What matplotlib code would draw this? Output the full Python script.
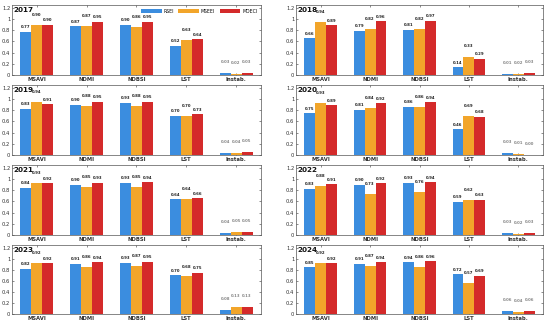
import matplotlib
matplotlib.use("Agg")
import matplotlib.pyplot as plt
import numpy as np

categories = ["MSAVI", "NDMI", "NDBSI", "LST", "Instab."]
series = ["RSEI", "MSEEI", "MDECI"]
years = ["2017", "2018", "2019", "2020", "2021", "2022", "2023", "2024"]

rsei_2017 = [0.77, 0.87, 0.90, 0.52, 0.03]
mseei_2017 = [0.90, 0.87, 0.86, 0.63, 0.02]
mdeci_2017 = [0.90, 0.95, 0.95, 0.64, 0.03]

rsei_2018 = [0.66, 0.79, 0.81, 0.14, 0.01]
mseei_2018 = [0.94, 0.82, 0.82, 0.33, 0.02]
mdeci_2018 = [0.89, 0.96, 0.97, 0.29, 0.03]

rsei_2019 = [0.83, 0.90, 0.93, 0.70, 0.04]
mseei_2019 = [0.94, 0.88, 0.88, 0.70, 0.04]
mdeci_2019 = [0.91, 0.95, 0.95, 0.73, 0.05]

rsei_2020 = [0.75, 0.81, 0.86, 0.46, 0.03]
mseei_2020 = [0.93, 0.84, 0.86, 0.69, 0.01]
mdeci_2020 = [0.89, 0.92, 0.94, 0.68, 0.00]

rsei_2021 = [0.84, 0.90, 0.93, 0.64, 0.04]
mseei_2021 = [0.93, 0.85, 0.85, 0.64, 0.05]
mdeci_2021 = [0.92, 0.93, 0.94, 0.66, 0.05]

rsei_2022 = [0.83, 0.90, 0.93, 0.59, 0.03]
mseei_2022 = [0.88, 0.73, 0.76, 0.62, 0.02]
mdeci_2022 = [0.91, 0.92, 0.94, 0.63, 0.03]

rsei_2023 = [0.82, 0.91, 0.93, 0.70, 0.08]
mseei_2023 = [0.92, 0.86, 0.87, 0.68, 0.13]
mdeci_2023 = [0.92, 0.94, 0.95, 0.75, 0.13]

rsei_2024 = [0.85, 0.91, 0.94, 0.72, 0.06]
mseei_2024 = [0.92, 0.87, 0.86, 0.57, 0.04]
mdeci_2024 = [0.92, 0.94, 0.96, 0.69, 0.06]

data = {
    "2017": (rsei_2017, mseei_2017, mdeci_2017),
    "2018": (rsei_2018, mseei_2018, mdeci_2018),
    "2019": (rsei_2019, mseei_2019, mdeci_2019),
    "2020": (rsei_2020, mseei_2020, mdeci_2020),
    "2021": (rsei_2021, mseei_2021, mdeci_2021),
    "2022": (rsei_2022, mseei_2022, mdeci_2022),
    "2023": (rsei_2023, mseei_2023, mdeci_2023),
    "2024": (rsei_2024, mseei_2024, mdeci_2024),
}

colors = ["#3b8ddf", "#f2a52a", "#d42a2a"]
label_offsets = [0.08, 0.18, 0.08]

W, H = 550, 324
fig = plt.figure(figsize=(5.5, 3.24), dpi=100)
plt.rcParams['font.family'] = ['DejaVu Sans']

col_x = [(12, 261), (296, 543)]
row_y = [(5, 75), (85, 155), (165, 235), (245, 314)]

x = np.arange(1, len(categories) + 1)
bw = 0.22

for i, yr in enumerate(years):
    r, c = divmod(i, 2)
    x0, x1 = col_x[c]
    y0, y1 = row_y[r]
    ax = fig.add_axes([x0 / W, 1 - y1 / H, (x1 - x0) / W, (y1 - y0) / H])
    vals = data[yr]
    for k in range(3):
        ax.bar(x + (k - 1) * bw, vals[k], width=bw, color=colors[k],
               label=series[k], zorder=2)
        for j, v in enumerate(vals[k]):
            off = label_offsets[k] if j < 4 else 0.2
            ax.text(x[j] + (k - 1) * bw, v + off, f"{v:.2f}", ha="center",
                    va="center", fontsize=2.8, fontweight="bold",
                    color="#222222" if j < 4 else "#888888")
    ax.set_xlim(0.5, 5.5)
    ax.set_ylim(0, 1.25)
    ax.set_yticks([0, 0.2, 0.4, 0.6, 0.8, 1.0, 1.2])
    ax.set_yticklabels(["0", "0.2", "0.4", "0.6", "0.8", "1", "1.2"])
    ax.set_xticks(x)
    ax.set_xticklabels(categories, fontweight="bold")
    ax.tick_params(direction="in", length=1.5, width=0.4, labelsize=3.8,
                   pad=1.2, top=True, right=True, colors="#333333")
    for sp in ax.spines.values():
        sp.set_linewidth(0.5)
        sp.set_color("#555555")
    ax.text(0.004, 0.975, yr, transform=ax.transAxes, ha="left", va="top",
            fontsize=5.2, fontweight="bold", color="#111111", zorder=5)
    if i == 0:
        ax.legend(loc="upper right", ncol=3, fontsize=3.3, frameon=False,
                  handlelength=4.5, handleheight=0.9, columnspacing=1.0,
                  handletextpad=0.4, borderaxespad=0.4)

fig.savefig("out.png", dpi=100)
